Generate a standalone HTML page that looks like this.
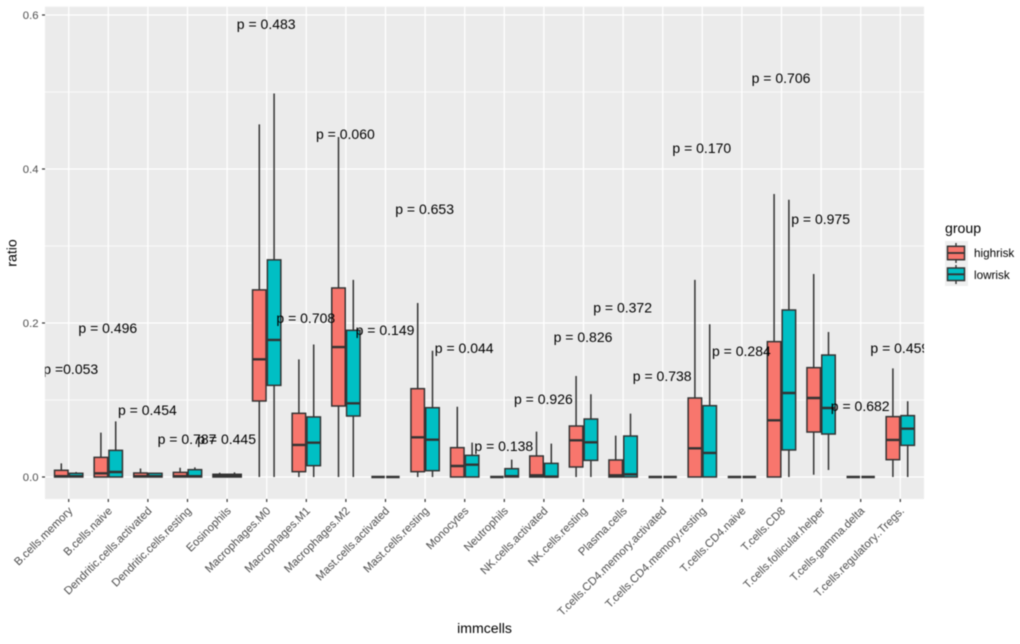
<!DOCTYPE html>
<html>
<head>
<meta charset="utf-8">
<title>Immune cell ratio by risk group</title>
<style>
html,body{margin:0;padding:0;background:#fff;width:1020px;height:644px;overflow:hidden}
svg{display:block;filter:blur(0.5px);font-family:"Liberation Sans",Arial,sans-serif}
</style>
</head>
<body>
<svg id="chart" width="1020" height="644" viewBox="0 0 1020 644" xmlns="http://www.w3.org/2000/svg">
  <defs>
    <clipPath id="panel-clip"><rect x="45" y="6.7" width="879" height="492.3"></rect></clipPath>
  </defs>
  <rect x="0" y="0" width="1020" height="644" fill="#ffffff"></rect>
  <rect x="45" y="6.7" width="879" height="492.3" fill="#EBEBEB"></rect>
  <g id="grid"></g>
  <g id="boxes" clip-path="url(#panel-clip)"></g>
  <g id="plabels" clip-path="url(#panel-clip)"></g>
  <g id="yaxis"></g>
  <g id="xaxis"></g>
  <text x="484.5" y="633" font-size="14.1" text-anchor="middle" fill="#000">immcells</text>
  <text transform="translate(16.5,253) rotate(-90)" font-size="14.1" text-anchor="middle" fill="#000">ratio</text>
  <g>
    <text x="945" y="233" font-size="14.1" fill="#000">group</text>
    <g>
      <rect x="945" y="241" width="23" height="23" fill="#EFEFEF"></rect>
      <line x1="956" x2="956" y1="243" y2="263" stroke="#333" stroke-width="1.4"></line>
      <rect x="947.5" y="246.3" width="17" height="13.4" fill="#F8766D" stroke="#333" stroke-width="1.5"></rect>
      <line x1="947.5" x2="964.5" y1="253" y2="253" stroke="#333" stroke-width="1.8"></line>
      <text x="974" y="257.2" font-size="11.7" fill="#000">highrisk</text>
    </g>
    <g>
      <rect x="945" y="264" width="23" height="22" fill="#EFEFEF"></rect>
      <line x1="956" x2="956" y1="265" y2="284" stroke="#333" stroke-width="1.4"></line>
      <rect x="947.5" y="268" width="17" height="12.5" fill="#00BFC4" stroke="#333" stroke-width="1.5"></rect>
      <line x1="947.5" x2="964.5" y1="274.3" y2="274.3" stroke="#333" stroke-width="1.8"></line>
      <text x="974" y="279.2" font-size="11.7" fill="#000">lowrisk</text>
    </g>
  </g>
</svg>
<script>
var categories = ["B.cells.memory","B.cells.naive","Dendritic.cells.activated","Dendritic.cells.resting","Eosinophils","Macrophages.M0","Macrophages.M1","Macrophages.M2","Mast.cells.activated","Mast.cells.resting","Monocytes","Neutrophils","NK.cells.activated","NK.cells.resting","Plasma.cells","T.cells.CD4.memory.activated","T.cells.CD4.memory.resting","T.cells.CD4.naive","T.cells.CD8","T.cells.follicular.helper","T.cells.gamma.delta","T.cells.regulatory..Tregs."];
var highMin = [0,0,0,0,0,0,0,0,0,0,0,0,0,0,0,0,0,0,0,0.003,0,0];
var highQ1  = [0,0,0,0,0,0.0987,0.0069,0.0922,0,0.0069,0,0,0,0.013,0,0,0,0,0,0.0584,0,0.0225];
var highMed = [0.001,0.0048,0.001,0.001,0.001,0.1528,0.0416,0.1688,0,0.0515,0.0143,0,0.0022,0.0476,0.0022,0,0.0372,0,0.0736,0.1026,0,0.0481];
var highQ3  = [0.0087,0.0255,0.0052,0.006,0.0035,0.243,0.0827,0.2455,0,0.1147,0.0381,0,0.0273,0.0662,0.0221,0,0.1026,0,0.1758,0.142,0,0.0784];
var highMax = [0.0177,0.0576,0.011,0.012,0.0056,0.458,0.1528,0.4416,0,0.226,0.0913,0,0.0589,0.1312,0.0537,0,0.256,0,0.3675,0.2636,0,0.1411];
var lowMin = [0,0,0,0,0,0,0,0,0,0,0,0,0,0,0,0,0,0,0,0.0091,0,0];
var lowQ1  = [0,0,0,0,0,0.119,0.0147,0.0792,0,0.0082,0,0,0,0.0216,0,0,0,0,0.0351,0.0558,0,0.0411];
var lowMed = [0.001,0.0065,0.001,0.001,0.001,0.178,0.0446,0.0957,0,0.0485,0.016,0.001,0.0005,0.045,0.0035,0,0.0312,0,0.1091,0.0896,0,0.0628];
var lowQ3  = [0.0048,0.0346,0.0048,0.0095,0.0035,0.282,0.078,0.1905,0,0.09,0.0281,0.0108,0.0177,0.0753,0.0532,0,0.0926,0,0.2169,0.1584,0,0.0797];
var lowMax = [0.0065,0.0723,0.0048,0.0125,0.006,0.498,0.172,0.256,0,0.164,0.0446,0.0225,0.0433,0.1074,0.0823,0,0.1983,0,0.36,0.1883,0,0.0983];
var pLabels = ["p =0.053","p = 0.496","p = 0.454","p = 0.787","p = 0.445","p = 0.483","p = 0.708","p = 0.060","p = 0.149","p = 0.653","p = 0.044","p = 0.138","p = 0.926","p = 0.826","p = 0.372","p = 0.738","p = 0.170","p = 0.284","p = 0.706","p = 0.975","p = 0.682","p = 0.459"];
var pHeights = [0.1403,0.1935,0.087,0.0494,0.0494,0.5883,0.2065,0.4455,0.191,0.3481,0.1675,0.0403,0.1013,0.1818,0.22,0.1313,0.4273,0.1636,0.5182,0.3351,0.0922,0.1675];
var yMajorTicks = [0,0.2,0.4,0.6];
var yTickLabels = ["0.0","0.2","0.4","0.6"];
var yMinorTicks = [0.1,0.3,0.5];

var NS = "http://www.w3.org/2000/svg";
function yScale(v){ return 477 - v * 770; }
function xScale(i){ return 68.7 + 39.6 * i; }
var DODGE = 7.4, BOXW = 13.5;

function mk(parent, tag, attrs){
  var el = document.createElementNS(NS, tag);
  for (var k in attrs) el.setAttribute(k, attrs[k]);
  parent.appendChild(el);
  return el;
}

var grid = document.getElementById("grid");
yMinorTicks.forEach(function(v){
  var el = mk(grid, "line", {x1:45, x2:924, y1:yScale(v), y2:yScale(v), stroke:"#fff", "stroke-width":0.7});
  
  
});
yMajorTicks.forEach(function(v){
  var el = mk(grid, "line", {x1:45, x2:924, y1:yScale(v), y2:yScale(v), stroke:"#fff", "stroke-width":1.3});
  
  
});
categories.forEach(function(c, i){
  var el = mk(grid, "line", {x1:xScale(i), x2:xScale(i), y1:6.7, y2:499, stroke:"#fff", "stroke-width":1.3});
  
  
});

var yaxis = document.getElementById("yaxis");
yMajorTicks.forEach(function(v, i){
  var t = mk(yaxis, "line", {x1:42, x2:45, y1:yScale(v), y2:yScale(v), stroke:"#333", "stroke-width":1.2});
  
  
  var l = mk(yaxis, "text", {x:38.5, y:yScale(v)+4, "font-size":11.3, "text-anchor":"end", fill:"#4D4D4D"});
  l.textContent = yTickLabels[i];
  
  
});

var xaxis = document.getElementById("xaxis");
categories.forEach(function(c, i){
  var x = xScale(i);
  var t = mk(xaxis, "line", {x1:x, x2:x, y1:499, y2:502, stroke:"#333", "stroke-width":1.2});
  
  
  var l = mk(xaxis, "text", {transform:"translate("+(x+4.5)+",511.5) rotate(-45)", "font-size":11.3, "text-anchor":"end", fill:"#4D4D4D"});
  l.textContent = c;
  
  
});

function drawBox(parent, cx, lo, q1, med, q3, hi, fill){
  var OUT = "#333333";
  var w1 = mk(parent, "line", {x1:cx, x2:cx, y1:yScale(q3), y2:yScale(hi), stroke:OUT, "stroke-width":1.5});
  
  
  var w2 = mk(parent, "line", {x1:cx, x2:cx, y1:yScale(q1), y2:yScale(lo), stroke:OUT, "stroke-width":1.5});
  
  
  var r = mk(parent, "rect", {x:cx-BOXW/2, y:yScale(q3), width:BOXW, height:Math.max(0, yScale(q1)-yScale(q3)), fill:fill, stroke:OUT, "stroke-width":1.5});
  
  
  var m = mk(parent, "line", {x1:cx-BOXW/2, x2:cx+BOXW/2, y1:yScale(med), y2:yScale(med), stroke:OUT, "stroke-width":2.4});
  
  
}

var boxes = document.getElementById("boxes");
categories.forEach(function(c, i){
  var g = mk(boxes, "g", {});
  
  
  drawBox(g, xScale(i)-DODGE, highMin[i], highQ1[i], highMed[i], highQ3[i], highMax[i], "#F8766D");
  drawBox(g, xScale(i)+DODGE, lowMin[i], lowQ1[i], lowMed[i], lowQ3[i], lowMax[i], "#00BFC4");
});

var plabels = document.getElementById("plabels");
pLabels.forEach(function(p, i){
  var x = xScale(i) - 0.5, anchor = "middle";
  if (i === 0) { x = xScale(i) + 29.5; anchor = "end"; }
  var t = mk(plabels, "text", {x:x, y:yScale(pHeights[i])+5, "font-size":14, "text-anchor":anchor, fill:"#000"});
  t.textContent = p;
  
  
});
</script>
</body>
</html>
